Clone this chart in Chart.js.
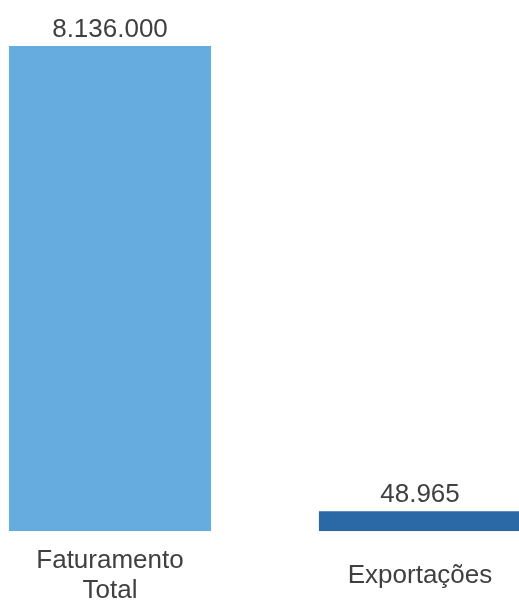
<!DOCTYPE html>
<html>
<head>
<meta charset="utf-8">
<script src="https://cdn.jsdelivr.net/npm/chart.js@4"></script>
<style>
  html, body { margin: 0; padding: 0; background: #fff; overflow: hidden; }
  #bars { position: absolute; left: -45px; top: 0; }
</style>
</head>
<body>
<canvas id="bars" width="620" height="651"></canvas>
<script>
// data
var categories = [['Faturamento', 'Total'], 'Exportações'];
var values = [8136000, 48965];
var valueLabels = ['8.136.000', '48.965'];
var barColors = ['#67acdf', '#2a68a6'];

var fontFamily = '"Liberation Sans", Arial, Helvetica, sans-serif';

// value labels above the bars
var valueLabelPlugin = {
    id: 'valueLabels',
    afterDatasetsDraw: function (chart) {
        var ctx = chart.ctx;
        var meta = chart.getDatasetMeta(0);
        ctx.save();
        ctx.font = '26px ' + fontFamily;
        ctx.fillStyle = '#404040';
        ctx.textAlign = 'center';
        ctx.textBaseline = 'alphabetic';
        meta.data.forEach(function (bar, i) {
            ctx.fillText(valueLabels[i], bar.x, bar.y - 9);
        });
        ctx.restore();
    }
};

var bars = document.getElementById('bars').getContext('2d');
var myChart = new Chart(bars, {
    type: 'bar',
    data: {
        labels: categories,
        datasets: [{
            data: values,
            backgroundColor: barColors,
            borderWidth: 0,
            minBarLength: 20,
            categoryPercentage: 1,
            barPercentage: 0.652
        }]
    },
    options: {
        responsive: false,
        animation: false,
        layout: {
            padding: { top: 46, left: 0, right: 0, bottom: 0 }
        },
        scales: {
            x: {
                grid: { display: false, drawTicks: false },
                border: { display: false },
                ticks: {
                    color: '#404040',
                    font: { family: fontFamily, size: 26, lineHeight: 1.15 },
                    padding: 30,
                    maxRotation: 0,
                    autoSkip: false,
                    crossAlign: 'center'
                }
            },
            y: {
                display: false,
                beginAtZero: true,
                max: Math.max.apply(null, values)
            }
        },
        plugins: {
            legend: false,
            tooltip: { enabled: false }
        }
    },
    plugins: [valueLabelPlugin]
});
</script>
</body>
</html>
